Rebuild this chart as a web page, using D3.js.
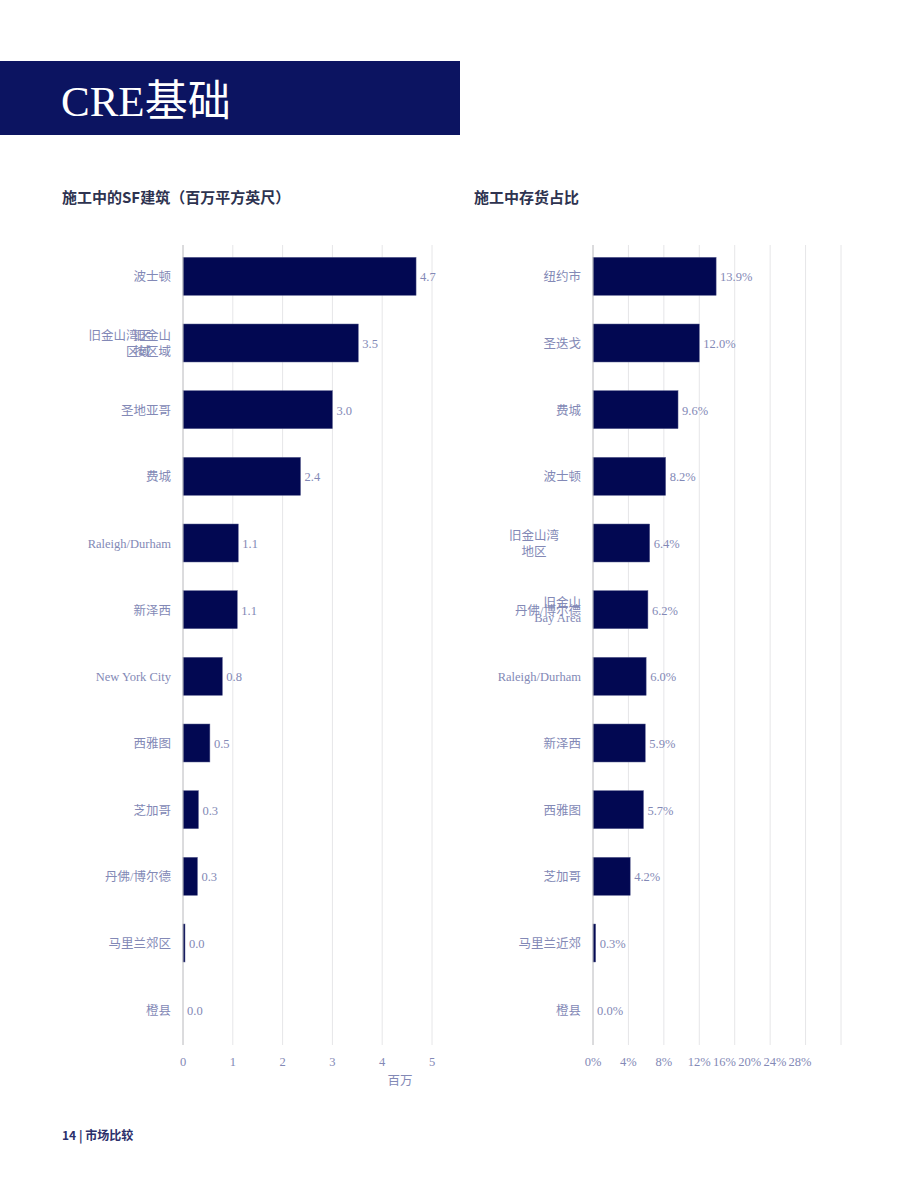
<!DOCTYPE html>
<html>
<head>
<meta charset="utf-8">
<script src="https://cdn.jsdelivr.net/npm/d3@7"></script>
<style>
  body { margin: 0; background: #fff; }
  svg text { font-family: "Liberation Serif", "Noto Sans CJK SC", serif; }
</style>
</head>
<body>
<div id="page"></div>
<script>
// left chart: SF under construction (millions)
var sfCities = ["波士顿", "旧金山按区域", "圣地亚哥", "费城", "Raleigh/Durham", "新泽西",
  "New York City", "西雅图", "芝加哥", "丹佛/博尔德", "马里兰郊区", "橙县"];
var sfValues = [4.68, 3.52, 3.0, 2.36, 1.11, 1.09, 0.79, 0.54, 0.31, 0.29, 0.04, 0];
var sfTicks = [0, 1, 2, 3, 4, 5];

// right chart: under construction as % of inventory
var pctCities = ["纽约市", "圣迭戈", "费城", "波士顿", "旧金山湾地区", "丹佛/博尔德",
  "Raleigh/Durham", "新泽西", "西雅图", "芝加哥", "马里兰近郊", "橙县"];
var pctValues = [13.9, 12.0, 9.6, 8.2, 6.4, 6.2, 6.0, 5.9, 5.7, 4.2, 0.3, 0.0];
var pctTicks = [0, 4, 8, 12, 16, 20, 24, 28];

var width = 920, height = 1191;
var barColor = "#020852";
var labelColor = "#8389b6";
var fs = 12.5;

var svg = d3.select("#page").append("svg")
  .attr("width", width).attr("height", height);

// header band
svg.append("rect").attr("x", 0).attr("y", 61).attr("width", 460).attr("height", 74)
  .attr("fill", "#0c1461");
svg.append("text").attr("x", 61).attr("y", 116)
  .attr("fill", "#fff").attr("font-size", 43)
  .text("CRE基础");

// chart titles
svg.append("text").attr("x", 62).attr("y", 203)
  .style("font-family", "'Noto Sans CJK SC', sans-serif")
  .attr("font-weight", "bold").attr("font-size", 15).attr("fill", "#2e3350")
  .text("施工中的SF建筑（百万平方英尺）");
svg.append("text").attr("x", 474).attr("y", 203)
  .style("font-family", "'Noto Sans CJK SC', sans-serif")
  .attr("font-weight", "bold").attr("font-size", 15).attr("fill", "#2e3350")
  .text("施工中存货占比");

// footer
svg.append("text").attr("x", 62).attr("y", 1140)
  .style("font-family", "'Noto Sans CJK SC', sans-serif")
  .attr("font-weight", "bold").attr("font-size", 12).attr("fill", "#2b2f6b")
  .text("14 | 市场比较");

function drawChart(opts) {
  var x = d3.scaleLinear().domain(opts.domain).range([opts.x0, opts.x1]);
  var y = d3.scaleBand().domain(opts.cats).range([243, 1043])
    .paddingInner(0.43).paddingOuter(0.215);
  var g = svg.append("g");

  // gridlines
  g.selectAll(".grid").data(opts.ticks.slice(1)).enter().append("line")
    .attr("x1", function(d){ return x(d); }).attr("x2", function(d){ return x(d); })
    .attr("y1", 245).attr("y2", 1045)
    .attr("stroke", "#e6e6e8").attr("stroke-width", 1);

  // bars
  g.selectAll(".bar").data(opts.values).enter().append("rect")
    .attr("x", x(0))
    .attr("y", function(d, i){ return y(opts.cats[i]); })
    .attr("width", function(d){ return Math.max(0, x(d) - x(0)); })
    .attr("height", y.bandwidth())
    .attr("fill", barColor)
    .attr("stroke", "#5a5f8f").attr("stroke-width", 0.5);

  // value labels
  g.selectAll(".val").data(opts.values).enter().append("text")
    .attr("x", function(d){ return x(d) + 4; })
    .attr("y", function(d, i){ return y(opts.cats[i]) + y.bandwidth() / 2 + 5; })
    .attr("font-size", fs).attr("fill", labelColor)
    .text(opts.fmt);

  // axis line
  g.append("line").attr("x1", x(0)).attr("x2", x(0)).attr("y1", 245).attr("y2", 1045)
    .attr("stroke", "#b8b8bc");

  // category labels
  g.selectAll(".cat").data(opts.cats).enter().append("text")
    .attr("x", opts.x0 - 12)
    .attr("y", function(d){ return y(d) + y.bandwidth() / 2 + 5; })
    .attr("text-anchor", "end").attr("font-size", fs).attr("fill", labelColor)
    .text(function(d){ return opts.catText ? opts.catText(d) : d; });

  // tick labels
  g.selectAll(".tick").data(opts.ticks).enter().append("text")
    .attr("x", function(d, i){ return opts.tickX ? opts.tickX(x, d, i) : x(d); })
    .attr("y", 1066).attr("text-anchor", "middle")
    .attr("font-size", fs).attr("fill", labelColor)
    .text(opts.tickFmt);

  return { x: x, y: y, g: g };
}

var left = drawChart({
  cats: sfCities, values: sfValues, ticks: sfTicks,
  domain: [0, 5], x0: 183, x1: 432,
  fmt: function(d){ return d3.format(".1f")(d); },
  tickFmt: function(d){ return d; },
  catText: function(d){ return d === "旧金山按区域" ? "" : d; }
});
// axis unit
svg.append("text").attr("x", 400).attr("y", 1085).attr("text-anchor", "middle")
  .attr("font-size", fs).attr("fill", labelColor).text("百万");

// overlapping two-line labels for the bay area row
var by = left.y("旧金山按区域") + left.y.bandwidth() / 2;
[["旧金山湾区", "区域", 151], ["旧金山", "按区域", 171]].forEach(function(l){
  var t = svg.append("text").attr("text-anchor", "end").attr("font-size", fs).attr("fill", labelColor);
  t.append("tspan").attr("x", l[2]).attr("y", by - 3).text(l[0]);
  t.append("tspan").attr("x", l[2]).attr("y", by + 13).text(l[1]);
});

var right = drawChart({
  cats: pctCities, values: pctValues, ticks: pctTicks,
  domain: [0, 28], x0: 593, x1: 841,
  fmt: function(d){ return d3.format(".1f")(d) + "%"; },
  tickFmt: function(d){ return d + "%"; },
  tickX: function(x, d, i){ return i <= 3 ? x(d) : x(pctTicks[3]) + (i - 3) * 25.2; },
  catText: function(d){ return (d === "旧金山湾地区") ? "" : d; }
});

// centred two-line label for the bay area row
var ry = right.y("旧金山湾地区") + right.y.bandwidth() / 2;
var rt = svg.append("text").attr("text-anchor", "middle").attr("font-size", fs).attr("fill", labelColor);
rt.append("tspan").attr("x", 534).attr("y", ry - 3).text("旧金山湾");
rt.append("tspan").attr("x", 534).attr("y", ry + 13).text("地区");

// overlapping label on the Denver row
var dy = right.y("丹佛/博尔德") + right.y.bandwidth() / 2;
var dt = svg.append("text").attr("text-anchor", "end").attr("font-size", fs).attr("fill", labelColor);
dt.append("tspan").attr("x", 581).attr("y", dy - 3).text("旧金山");
dt.append("tspan").attr("x", 581).attr("y", dy + 12).text("Bay Area");
</script>
</body>
</html>
